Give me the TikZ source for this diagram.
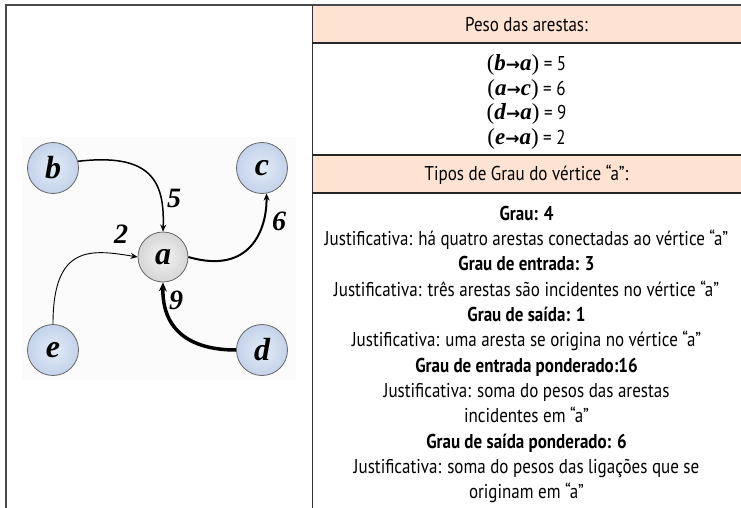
\documentclass[tikz,border=0pt]{standalone}
\usepackage{fontspec}
\setmainfont[FakeStretch=0.85]{PT Sans}
\newfontfamily\gs{Liberation Serif}
\newfontfamily\arr{DejaVu Sans}
\usetikzlibrary{arrows.meta,shadings}
\definecolor{peach}{HTML}{FFE3D2}
\definecolor{rule}{HTML}{4A4A4A}
\definecolor{vblue}{HTML}{C3D3EA}
\definecolor{vblueL}{HTML}{E3ECF7}
\definecolor{vgray}{HTML}{D6D6D6}
\definecolor{vgrayL}{HTML}{F2F2F2}
\newcommand{\wpair}[2]{{\gs\fontsize{23}{23}\selectfont(\textbf{\textit{#1}}{\arr\bfseries\fontsize{17}{17}\selectfont →}\textbf{\textit{#2}})}}
\tikzset{
  vert/.style={circle,draw=gray!80!black,line width=0.8pt,minimum size=51pt,inner sep=0pt,
    inner color=vblueL,outer color=vblue,font=\gs\bfseries\itshape\fontsize{32}{32}\selectfont},
  center/.style={vert,minimum size=50pt,inner color=vgrayL,outer color=vgray},
  wlab/.style={font=\gs\bfseries\itshape\fontsize{28}{28}\selectfont,inner sep=0pt},
  edge/.style={-{Stealth[length=7pt,width=6pt]}},
  txt/.style={anchor=base,inner sep=0pt,font=\fontsize{20}{22}\selectfont},
  btxt/.style={txt,font=\fontsize{20}{22}\selectfont\bfseries}
}
\begin{document}
\begin{tikzpicture}[x=1pt,y=-1pt]
\useasboundingbox (0,0) rectangle (741,508);
% graph background
\fill[gray!3] (22,137) rectangle (296,380);
% table
\fill[peach] (312,5) rectangle (741,43);
\fill[peach] (312,155) rectangle (741,193);
\draw[rule,line width=2pt] (5,5.5) -- (741,5.5);
\draw[rule,line width=2pt] (6,5) -- (6,508);
\draw[black!80,line width=1pt] (312,5) -- (312,508);
\draw[black!85,line width=1.5pt] (312,43) -- (741,43);
\draw[black!85,line width=1.5pt] (312,155) -- (741,155);
\draw[black!85,line width=1.5pt] (312,193) -- (741,193);
% graph
\node[vert] (b) at (53,168) {b};
\node[vert] (c) at (262,168) {c};
\node[center] (a) at (163,257) {a};
\node[vert] (e) at (53,350) {e};
\node[vert] (d) at (262,350) {d};
\draw[edge,line width=1.5pt] (b.15) .. controls (150,153) and (165,180) .. (a.north);
\draw[edge,line width=0.9pt] (e.north) .. controls (53,245) and (90,249) .. (a.west);
\draw[edge,line width=2pt] (a.east) .. controls (250,275) and (267,230) .. (c.-80);
\draw[edge,line width=3.5pt,-{Stealth[length=9pt,width=8pt]}] (d.west) .. controls (190,350) and (162,330) .. (a.south);
\node[wlab] (w5) at (174,198) {5};
\node[wlab] (w2) at (121,234) {2};
\node[wlab] (w6) at (279,221) {6};
\node[wlab] (w9) at (176,300) {9};
% texts
\node[txt] (h1) at (526.5,32) {Peso das arestas:};
\node[txt] (p1) at (526.5,71) {\wpair{b}{a} = 5};
\node[txt] (p2) at (526.5,96) {\wpair{a}{c} = 6};
\node[txt] (p3) at (526.5,120) {\wpair{d}{a} = 9};
\node[txt] (p4) at (526.5,144) {\wpair{e}{a} = 2};
\node[txt] (h2) at (526.5,180) {Tipos de Grau do vértice “a”:};
\node[btxt] (l1) at (526.5,220) {Grau: 4};
\node[txt] (l2) at (526.5,245) {Justificativa: há quatro arestas conectadas ao vértice “a”};
\node[btxt] (l3) at (526.5,270) {Grau de entrada: 3};
\node[txt] (l4) at (526.5,296) {Justificativa: três arestas são incidentes no vértice “a”};
\node[btxt] (l5) at (526.5,321) {Grau de saída: 1};
\node[txt] (l6) at (526.5,346) {Justificativa: uma aresta se origina no vértice “a”};
\node[btxt] (l7) at (526.5,372) {Grau de entrada ponderado:16};
\node[txt] (l8) at (526.5,397) {Justificativa: soma do pesos das arestas};
\node[txt] (l9) at (526.5,422) {incidentes em “a”};
\node[btxt] (l10) at (526.5,448) {Grau de saída ponderado: 6};
\node[txt] (l11) at (526.5,473) {Justificativa: soma do pesos das ligações que se};
\node[txt] (l12) at (526.5,498) {originam em “a”};
\end{tikzpicture}
\end{document}
